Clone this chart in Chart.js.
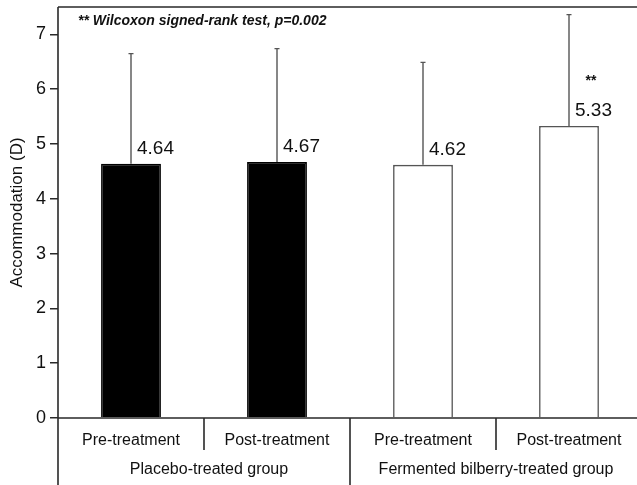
<!DOCTYPE html>
<html>
<head>
<meta charset="utf-8">
<script src="https://cdn.jsdelivr.net/npm/chart.js@4.4.1/dist/chart.umd.min.js"></script>
<style>
html,body{margin:0;padding:0;background:#fff;overflow:hidden;width:637px;height:485px;}
#wrap{position:relative;width:645px;height:485px;}
</style>
</head>
<body>
<div id="wrap"><canvas id="c" width="645" height="485"></canvas></div>
<script>
const categories = ['Pre-treatment', 'Post-treatment', 'Pre-treatment', 'Post-treatment'];
const groups = ['Placebo-treated group', 'Fermented bilberry-treated group'];
const means = [4.64, 4.67, 4.62, 5.33];
const sd = [2.01, 2.07, 1.87, 2.03];
const significance = ['', '', '', '**'];
const yTicks = [0, 1, 2, 3, 4, 5, 6, 7];
const note = '** Wilcoxon signed-rank test, p=0.002';

const FONT = '"Liberation Sans", Arial, sans-serif';
const LINE = '#2a2a2a';

const overlay = {
  id: 'overlay',
  afterDatasetsDraw(chart) {
    const ctx = chart.ctx;
    const y = chart.scales.y;
    const meta = chart.getDatasetMeta(0);
    ctx.save();
    meta.data.forEach((bar, i) => {
      const cx = bar.x;
      const yTop = y.getPixelForValue(means[i] + sd[i]);
      const yBar = y.getPixelForValue(means[i]);
      ctx.strokeStyle = '#555';
      ctx.lineWidth = 1.4;
      ctx.beginPath();
      ctx.moveTo(cx, yBar);
      ctx.lineTo(cx, yTop);
      ctx.moveTo(cx - 2.5, yTop);
      ctx.lineTo(cx + 2.5, yTop);
      ctx.stroke();
      ctx.fillStyle = '#111';
      ctx.font = '19px ' + FONT;
      ctx.textAlign = 'left';
      ctx.textBaseline = 'middle';
      ctx.fillText(means[i].toFixed(2), cx + 6, yBar - 15);
      if (significance[i]) {
        ctx.font = 'bold 14px ' + FONT;
        ctx.textAlign = 'center';
        ctx.fillText(significance[i], cx + 22, yBar - 45);
      }
    });
    ctx.restore();
  },
  afterDraw(chart) {
    const ctx = chart.ctx;
    const ca = chart.chartArea;
    const x = chart.scales.x;
    const n = categories.length;
    const w = (ca.right - ca.left) / n;
    const H = chart.height;
    ctx.save();
    ctx.strokeStyle = LINE;
    ctx.lineWidth = 1.6;
    ctx.beginPath();
    ctx.moveTo(ca.left, ca.top);
    ctx.lineTo(ca.right, ca.top);
    ctx.moveTo(ca.left, ca.bottom);
    ctx.lineTo(ca.right, ca.bottom);
    ctx.moveTo(ca.left, ca.top);
    ctx.lineTo(ca.left, H);
    for (let i = 1; i <= n; i++) {
      const bx = ca.left + i * w;
      ctx.moveTo(bx, ca.bottom);
      ctx.lineTo(bx, (i % 2 === 0) ? H : ca.bottom + 32);
    }
    ctx.stroke();
    ctx.fillStyle = '#111';
    ctx.font = '16px ' + FONT;
    ctx.textAlign = 'center';
    ctx.textBaseline = 'middle';
    groups.forEach((g, gi) => {
      const cx = (x.getPixelForValue(gi * 2) + x.getPixelForValue(gi * 2 + 1)) / 2;
      ctx.fillText(g, cx + (gi === 0 ? 5 : 0), ca.bottom + 52);
    });
    ctx.font = 'italic bold 14px ' + FONT;
    ctx.textAlign = 'left';
    ctx.fillText(note, ca.left + 20, ca.top + 14);
    ctx.restore();
  }
};

new Chart(document.getElementById('c'), {
  type: 'bar',
  data: {
    labels: categories,
    datasets: [{
      data: means,
      backgroundColor: ['#000', '#000', '#fff', '#fff'],
      borderColor: ['#000', '#000', '#555', '#555'],
      borderWidth: 1.6,
      barPercentage: 0.41,
      categoryPercentage: 1.0
    }]
  },
  options: {
    responsive: false,
    animation: false,
    devicePixelRatio: 1,
    layout: { padding: { top: 7, right: 3, left: 0, bottom: 0 } },
    plugins: { legend: { display: false }, tooltip: { enabled: false }, title: { display: false } },
    scales: {
      x: {
        offset: true,
        grid: { display: false, drawTicks: false },
        border: { display: false },
        ticks: { color: '#111', font: { family: FONT, size: 16 }, padding: 13, maxRotation: 0, autoSkip: false },
        afterFit(s) { s.height = 67; s.paddingLeft = 0; s.paddingRight = 0; }
      },
      y: {
        min: 0,
        max: 7.5,
        afterBuildTicks(s) { s.ticks = yTicks.map(v => ({ value: v })); },
        grid: { drawOnChartArea: false, drawTicks: true, tickLength: 8, color: LINE, lineWidth: 1.5 },
        border: { display: false },
        ticks: { color: '#111', font: { family: FONT, size: 18 }, padding: 4 },
        title: { display: true, text: 'Accommodation (D)', color: '#111', font: { family: FONT, size: 17 }, padding: { top: 7, bottom: 2 } },
        afterFit(s) { s.width = 58; s.paddingTop = 0; s.paddingBottom = 0; }
      }
    }
  },
  plugins: [overlay]
});
</script>
</body>
</html>
